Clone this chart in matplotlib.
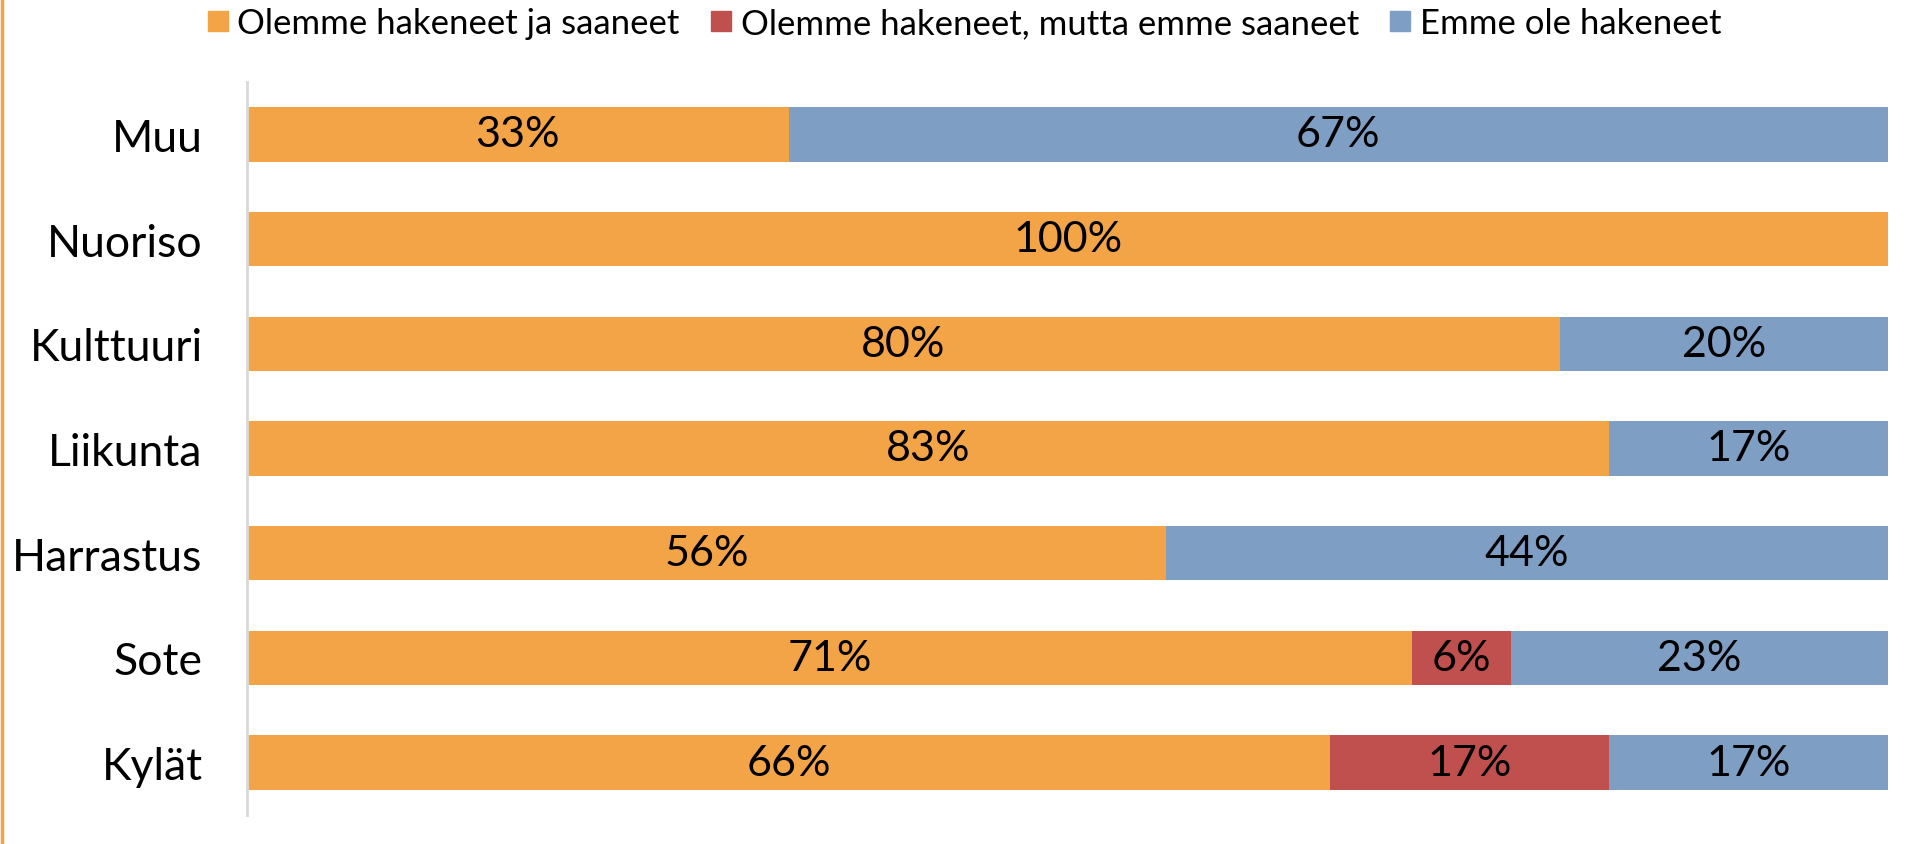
import numpy as np
import matplotlib
matplotlib.use('Agg')
import matplotlib.pyplot as plt
from matplotlib.lines import Line2D

plt.rcParams['font.family'] = ['Lato', 'DejaVu Sans']

categories = ['Kylät', 'Sote', 'Harrastus', 'Liikunta', 'Kulttuuri', 'Nuoriso', 'Muu']
saaneet = [66, 71, 56, 83, 80, 100, 33]
ei_saaneet = [17, 6, 0, 0, 0, 0, 0]
ei_hakeneet = [17, 23, 44, 17, 20, 0, 67]
series_names = ['Olemme hakeneet ja saaneet', 'Olemme hakeneet, mutta emme saaneet', 'Emme ole hakeneet']
colors = ['#F2A447', '#C0504D', '#7F9EC3']

fig = plt.figure(figsize=(19.06, 8.45), dpi=100)
ax = fig.add_axes([0.1296, 0.0343, 0.9906 - 0.1296, 0.9018 - 0.0343])

y = np.arange(len(categories))
left = np.zeros(len(categories))
for vals, name, col in zip([saaneet, ei_saaneet, ei_hakeneet], series_names, colors):
	vals = np.array(vals, dtype=float)
	ax.barh(y, vals, left=left, height=0.52, color=col, label=name)
	for i in range(len(vals)):
		if vals[i] > 0:
			ax.text(left[i] + vals[i] / 2, y[i], str(int(vals[i])) + '%', ha='center', va='center',
			        fontsize=31, color='black')
	left = left + vals

ax.set_xlim(0, 100)
ax.set_ylim(-0.5, len(categories) - 0.5)
ax.set_yticks(y)
ax.set_yticklabels(categories, fontsize=32)
ax.tick_params(axis='y', length=0, pad=32)
ax.set_xticks([])
for s in ['top', 'right', 'bottom']:
	ax.spines[s].set_visible(False)
ax.spines['left'].set_color('#D9D9D9')
ax.spines['left'].set_linewidth(2)

# legend on top
handles = [Line2D([0], [0], marker='s', linestyle='none', markersize=15, markerfacecolor=c, markeredgecolor=c) for c in colors]
fig.legend(handles, series_names, loc='center', bbox_to_anchor=(0.506, 1 - 24 / 845), ncol=3, frameon=False,
           fontsize=25, handletextpad=0.25, columnspacing=0.9, handlelength=0.6, borderpad=0)

# orange line on the left edge
fig.add_artist(Line2D([0.0008, 0.0008], [0, 1], color='#F2A447', linewidth=2.5, transform=fig.transFigure))

plt.savefig('out.png', dpi=100)
